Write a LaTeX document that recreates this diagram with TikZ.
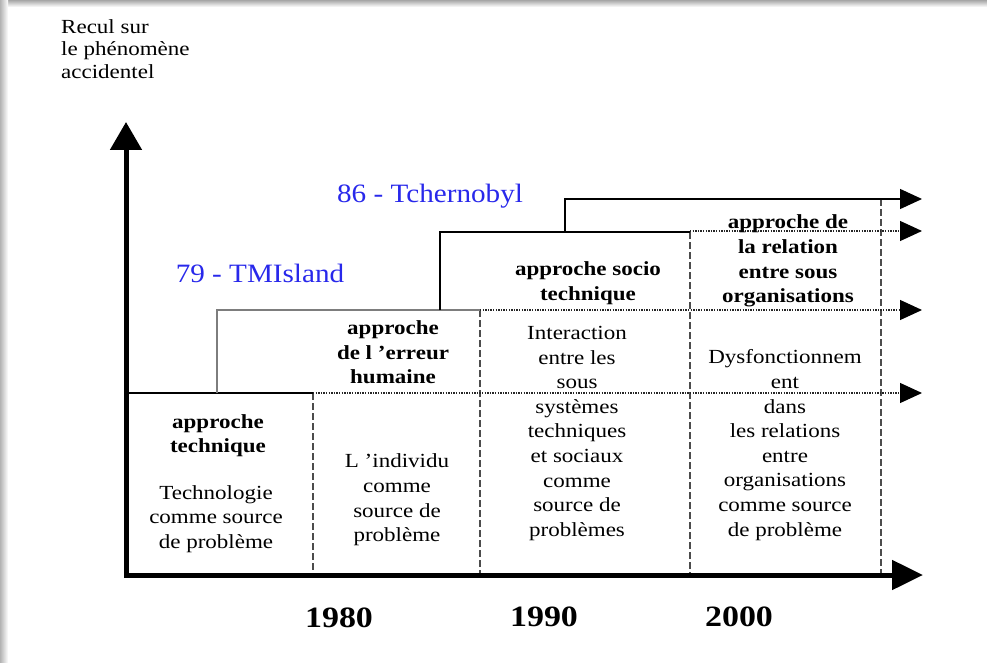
\documentclass[tikz,border=0pt]{standalone}
\usepackage{fontspec}
\setmainfont{Liberation Serif}[FakeStretch=1.15]
\newfontfamily\bluefont{Liberation Serif}[FakeStretch=1.1]
\usetikzlibrary{arrows.meta}
\definecolor{evblue}{RGB}{40,40,235}
\definecolor{lvlgray}{RGB}{125,125,125}
\tikzset{
  body/.style={font=\fontsize{20}{24.6}\selectfont, align=center, inner sep=0pt},
  head/.style={font=\fontsize{20}{24.6}\selectfont\bfseries, align=center, inner sep=0pt},
  yearlbl/.style={font=\fontsize{29.5}{30}\selectfont\bfseries, inner sep=0pt},
  eventlbl/.style={font=\bluefont\fontsize{26.5}{28}\selectfont, text=evblue, inner sep=0pt},
  stepline/.style={line width=1.4pt},
  dotline/.style={line width=1.2pt, draw=black!85, dash pattern=on 1.3pt off 1.3pt},
  dashline/.style={line width=1.8pt, draw=black!70, dash pattern=on 6.5pt off 3.5pt},
  smalltip/.style={-{Triangle[length=22pt,width=20pt,color=black]}},
  bigtip/.style={{Triangle[length=28pt,width=31pt]}-{Triangle[length=31pt,width=29pt]}},
}
\begin{document}
\begin{tikzpicture}[x=1pt,y=-1pt]
\useasboundingbox (0,0) rectangle (987,663);
\fill[white] (0,0) rectangle (987,663);
\shade[top color=black!35, bottom color=white] (0,0) rectangle (987,7);
\shade[left color=black!30, right color=white] (0,0) rectangle (8,663);

% coordinates
\coordinate (ytip) at (126,122);
\coordinate (origin) at (126,575);
\coordinate (xtip) at (923,575);

% dashed column separators
\draw[dashline] (313,393) -- (313,573);
\draw[dashline] (480,310) -- (480,573);
\draw[dashline] (690,232) -- (690,573);
\draw[dashline] (881,199) -- (881,573);

% dotted continuation lines
\draw[dotline, smalltip] (313,393) -- (922,393);
\draw[dotline, smalltip] (480,310) -- (922,310);
\draw[dotline, smalltip] (690,231) -- (922,231);

% steps
\draw[stepline] (126,393) -- (313,393);
\draw[stepline, draw=lvlgray, line width=1.7pt] (217,393) -- (217,310) -- (480,310);
\draw[stepline] (440,310) -- (440,232) -- (690,232);
\draw[stepline, smalltip] (565,232) -- (565,199) -- (922,199);

% axes
\draw[line width=5pt, line join=miter, bigtip] (ytip) -- (origin) -- (xtip);

% axis label
\node[body, align=left, anchor=west, font=\fontsize{20}{22.5}\selectfont] (ylab) at (61,49) {Recul sur\\le phénomène\\accidentel};

% events
\node[eventlbl] (ev79) at (260,273) {79 - TMIsland};
\node[eventlbl] (ev86) at (430,196) {86 - Tchernobyl};

% column 1
\node[head] (h1) at (218,435.5) {approche\\technique};
\node[body] (b1) at (216,519) {Technologie\\comme source\\de problème};

% column 2
\node[head] (h2) at (393,352.5) {approche\\de l ’erreur\\humaine};
\node[body] (b2) at (397,500) {L ’individu\\comme\\source de\\problème};

% column 3
\node[head] (h3) at (588,283) {approche socio\\technique};
\node[body] (b3) at (577,433.5) {Interaction\\entre les\\sous\\systèmes\\techniques\\et sociaux\\comme\\source de\\problèmes};

% column 4
\node[head] (h4) at (788,261) {approche de\\la relation\\entre sous\\organisations};
\node[body] (b4) at (785,445) {Dysfonctionnem\\ent\\dans\\les relations\\entre\\organisations\\comme source\\de problème};

% years
\node[yearlbl] (y80) at (339,618) {1980};
\node[yearlbl] (y90) at (544,617) {1990};
\node[yearlbl] (y00) at (739,617) {2000};
\end{tikzpicture}
\end{document}
